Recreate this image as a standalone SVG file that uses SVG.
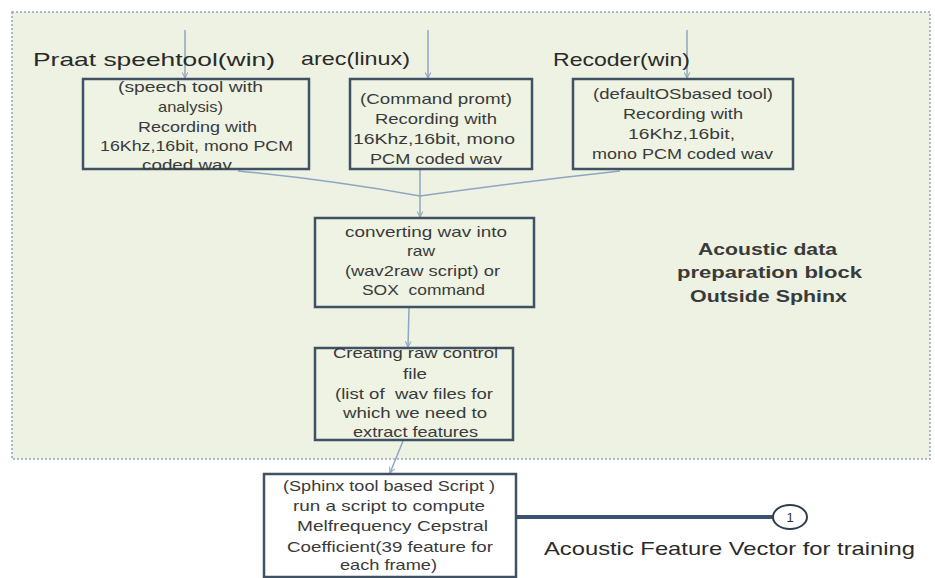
<svg xmlns="http://www.w3.org/2000/svg" width="935" height="578" viewBox="0 0 935 578">
<defs>
<style>
.box{fill:#EEF3E4;stroke:#3F5163;stroke-width:2.5}
.bt{font-family:"Liberation Sans",Arial,sans-serif;font-size:14.5px;fill:#3A3A3A}
.lb{font-family:"Liberation Sans",Arial,sans-serif;font-size:19px;fill:#2A2A2A}
.blk{font-family:"Liberation Sans",Arial,sans-serif;font-size:16.5px;font-weight:bold;fill:#3A3A3A}
.con{fill:none;stroke:#8FA6C1;stroke-width:1.5}
</style>
<marker id="ah" viewBox="0 0 10 10" refX="9" refY="5" markerWidth="7" markerHeight="7" orient="auto" markerUnits="userSpaceOnUse">
<path d="M1,1 L9,5 L1,9" fill="none" stroke="#8FA6C1" stroke-width="1.5"/>
</marker>
</defs>
<rect x="0" y="0" width="935" height="578" fill="#FFFFFF"/>
<g id="prep-block">
<rect x="12" y="12" width="918" height="447" fill="#EDF2E2" stroke="#8FA6C1" stroke-width="1.5" stroke-dasharray="2,2"/>
<text class="blk" x="698" y="255" textLength="139" lengthAdjust="spacingAndGlyphs">Acoustic data</text>
<text class="blk" x="677" y="278" textLength="185" lengthAdjust="spacingAndGlyphs">preparation block</text>
<text class="blk" x="690" y="302" textLength="157" lengthAdjust="spacingAndGlyphs">Outside Sphinx</text>
</g>
<g id="connectors">
<line class="con" x1="185" y1="30" x2="185" y2="78" marker-end="url(#ah)"/>
<line class="con" x1="428" y1="30" x2="428" y2="78" marker-end="url(#ah)"/>
<line class="con" x1="687" y1="30" x2="687" y2="78" marker-end="url(#ah)"/>
<path class="con" d="M238,171 Q330,180 420,196"/>
<path class="con" d="M620,171 Q520,182 420,196"/>
<line class="con" x1="420" y1="170" x2="420" y2="217" marker-end="url(#ah)"/>
<line class="con" x1="409" y1="308" x2="408" y2="347" marker-end="url(#ah)"/>
<line class="con" x1="403" y1="441" x2="390" y2="473" marker-end="url(#ah)"/>
<line x1="517" y1="517" x2="774" y2="517" stroke="#3A5273" stroke-width="4"/>
</g>
<g id="label-praat"><text class="lb" x="33" y="66" textLength="242" lengthAdjust="spacingAndGlyphs">Praat speehtool(win)</text></g>
<g id="label-arec"><text class="lb" x="301" y="65" textLength="109" lengthAdjust="spacingAndGlyphs">arec(linux)</text></g>
<g id="label-recoder"><text class="lb" x="553" y="66" textLength="137" lengthAdjust="spacingAndGlyphs">Recoder(win)</text></g>
<g id="node-praat">
<rect class="box" x="83" y="79" width="226" height="90"/>
<text class="bt" x="118" y="92" textLength="145" lengthAdjust="spacingAndGlyphs">(speech tool with</text>
<text class="bt" x="158" y="112" textLength="65" lengthAdjust="spacingAndGlyphs">analysis)</text>
<text class="bt" x="138" y="132" textLength="119" lengthAdjust="spacingAndGlyphs">Recording with</text>
<text class="bt" x="100" y="151" textLength="193" lengthAdjust="spacingAndGlyphs">16Khz,16bit, mono PCM</text>
<text class="bt" x="142" y="170" textLength="90" lengthAdjust="spacingAndGlyphs">coded wav</text>
</g>
<g id="node-arec">
<rect class="box" x="350" y="79" width="182" height="90"/>
<text class="bt" x="360" y="104" textLength="152" lengthAdjust="spacingAndGlyphs">(Command promt)</text>
<text class="bt" x="375" y="124" textLength="122" lengthAdjust="spacingAndGlyphs">Recording with</text>
<text class="bt" x="353" y="144" textLength="162" lengthAdjust="spacingAndGlyphs">16Khz,16bit, mono</text>
<text class="bt" x="370" y="164" textLength="132" lengthAdjust="spacingAndGlyphs">PCM coded wav</text>
</g>
<g id="node-recoder">
<rect class="box" x="573" y="79" width="220" height="90"/>
<text class="bt" x="593" y="99" textLength="180" lengthAdjust="spacingAndGlyphs">(defaultOSbased tool)</text>
<text class="bt" x="623" y="119" textLength="120" lengthAdjust="spacingAndGlyphs">Recording with</text>
<text class="bt" x="628" y="139" textLength="107" lengthAdjust="spacingAndGlyphs">16Khz,16bit,</text>
<text class="bt" x="592" y="159" textLength="181" lengthAdjust="spacingAndGlyphs">mono PCM coded wav</text>
</g>
<g id="node-convert">
<rect class="box" x="315" y="218" width="219" height="89"/>
<text class="bt" x="345" y="237" textLength="162" lengthAdjust="spacingAndGlyphs">converting wav into</text>
<text class="bt" x="407" y="256" textLength="28" lengthAdjust="spacingAndGlyphs">raw</text>
<text class="bt" x="345" y="276" textLength="155" lengthAdjust="spacingAndGlyphs">(wav2raw script) or</text>
<text class="bt" x="362" y="295" textLength="123" lengthAdjust="spacingAndGlyphs" style="white-space:pre">SOX  command</text>
</g>
<g id="node-control">
<rect class="box" x="315" y="348" width="198" height="92"/>
<text class="bt" x="333" y="358" textLength="165" lengthAdjust="spacingAndGlyphs">Creating raw control</text>
<text class="bt" x="403" y="379" textLength="24" lengthAdjust="spacingAndGlyphs">file</text>
<text class="bt" x="335" y="399" textLength="158" lengthAdjust="spacingAndGlyphs" style="white-space:pre">(list of  wav files for</text>
<text class="bt" x="343" y="418" textLength="144" lengthAdjust="spacingAndGlyphs">which we need to</text>
<text class="bt" x="353" y="437" textLength="125" lengthAdjust="spacingAndGlyphs">extract features</text>
</g>
<g id="node-sphinx">
<rect x="264" y="474" width="252" height="103" fill="#FFFFFF" stroke="#3F5163" stroke-width="2.5"/>
<text class="bt" x="283" y="491" textLength="212" lengthAdjust="spacingAndGlyphs">(Sphinx tool based Script )</text>
<text class="bt" x="293" y="511" textLength="192" lengthAdjust="spacingAndGlyphs">run a script to compute</text>
<text class="bt" x="297" y="531" textLength="191" lengthAdjust="spacingAndGlyphs">Melfrequency Cepstral</text>
<text class="bt" x="287" y="552" textLength="206" lengthAdjust="spacingAndGlyphs">Coefficient(39 feature for</text>
<text class="bt" x="340" y="570" textLength="97" lengthAdjust="spacingAndGlyphs">each frame)</text>
</g>
<g id="node-output">
<ellipse cx="790" cy="517" rx="17" ry="12" fill="#FFFFFF" stroke="#2C3E50" stroke-width="2"/>
<text x="790" y="522" text-anchor="middle" font-family="Liberation Sans, Arial, sans-serif" font-size="13" fill="#333333">1</text>
<text class="lb" x="544" y="555" font-size="20" textLength="371" lengthAdjust="spacingAndGlyphs">Acoustic Feature Vector for training</text>
</g>
</svg>
